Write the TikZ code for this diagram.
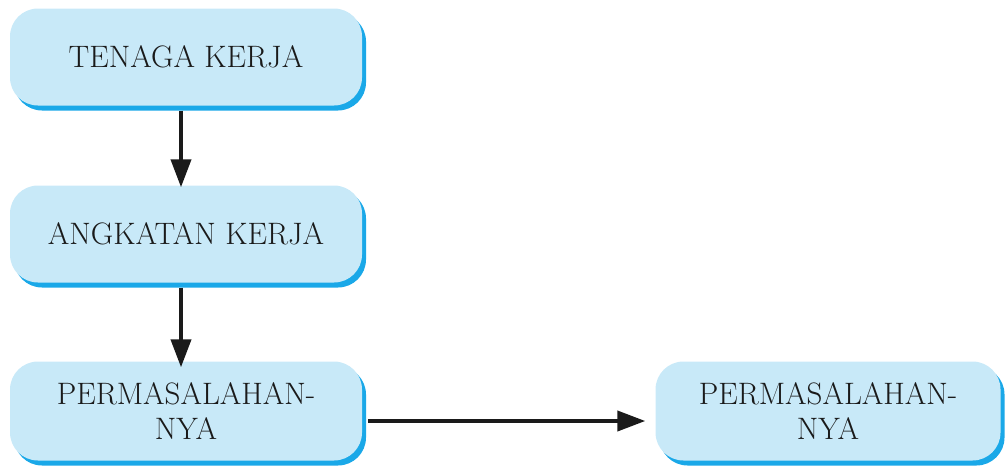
\documentclass[tikz,border=0pt]{standalone}
\usetikzlibrary{arrows.meta,shadows}
\definecolor{boxblue}{HTML}{C8E9F8}
\definecolor{shadowblue}{HTML}{1AA8E8}
\definecolor{arrowblack}{HTML}{1A1A1A}
\tikzset{
  flowbox/.style={rounded corners=28pt, fill=boxblue, minimum width=352pt, minimum height=97pt,
    align=center, font=\fontsize{31}{35}\selectfont, text=arrowblack, inner sep=0pt,
    drop shadow={shadow xshift=4pt, shadow yshift=-5pt, fill=shadowblue, opacity=1}},
  flowarrow/.style={draw=arrowblack, line width=4pt, -{Triangle[length=28pt,width=20pt]}}
}
\begin{document}
\begin{tikzpicture}[x=1pt,y=-1pt]
\useasboundingbox (0,0) rectangle (1006,466);
\node[flowbox] (b1) at (186,57) {TENAGA KERJA};
\node[flowbox] (b2) at (186,234) {ANGKATAN KERJA};
\node[flowbox, minimum height=99pt] (b3) at (186,411) {PERMASALAHAN-\\NYA};
\node[flowbox, minimum width=345pt, minimum height=99pt] (b4) at (828,411) {PERMASALAHAN-\\NYA};
\draw[flowarrow] ([xshift=-5pt,yshift=-5pt]b1.south) -- ([xshift=-5pt,yshift=-2pt]b2.north);
\draw[flowarrow] ([xshift=-5pt,yshift=-5pt]b2.south) -- ([xshift=-5pt,yshift=-6pt]b3.north);
\draw[flowarrow] ([xshift=6pt,yshift=-10pt]b3.east) -- ([xshift=-10pt,yshift=-10pt]b4.west);
\end{tikzpicture}
\end{document}
